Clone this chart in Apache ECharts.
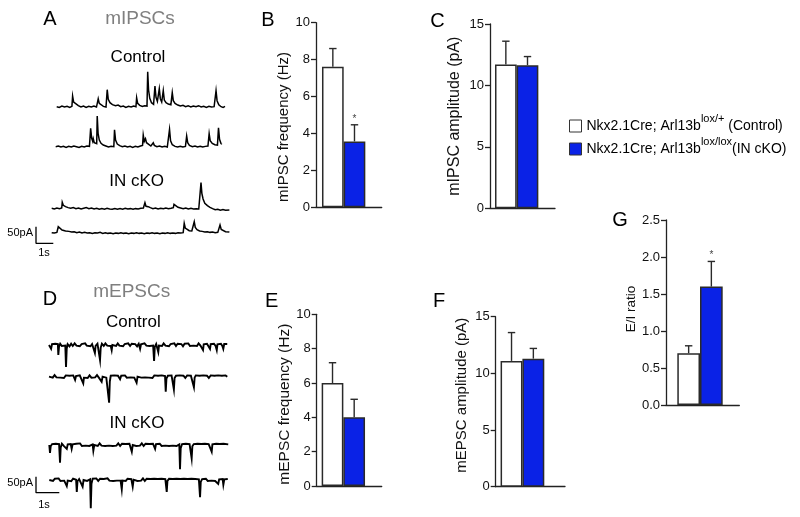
<!DOCTYPE html>
<html>
<head>
<meta charset="utf-8">
<script src="https://cdn.jsdelivr.net/npm/echarts@6/dist/echarts.min.js"></script>
<style>html,body{margin:0;padding:0;background:#fff}#chart{width:800px;height:517px}</style>
</head>
<body>
<div id="chart"></div>
<script>
// ---------------- DATA ----------------
const groups = ['Control', 'IN cKO'];
const legendLabels = {
  'Control': '{n|Nkx2.1Cre; Arl13b}{s|lox/+}{n| (Control)}',
  'IN cKO': '{n|Nkx2.1Cre; Arl13b}{s|lox/lox}{n|(IN cKO)}'
};
// bar panels: mean and SEM per group
const mipscFreqMean = [7.62, 3.57];
const mipscFreqSem  = [0.98, 0.90];
const mipscFreqSig  = [false, true];
const mipscAmpMean  = [11.7, 11.65];
const mipscAmpSem   = [1.9, 0.7];
const mepscFreqMean = [6.0, 4.0];
const mepscFreqSem  = [1.18, 1.05];
const mepscAmpMean  = [11.1, 11.3];
const mepscAmpSem   = [2.5, 0.9];
const eiRatioMean   = [0.70, 1.60];
const eiRatioSem    = [0.10, 0.34];
const eiRatioSig    = [false, true];
const noSig = [false, false];

// scale bars
const scaleBarPA = 50;
const scaleBarS = 1;

// example traces: [time (s), current (pA)]
const mipscControl1 = [[0,0],[0.15,-2],[0.3,2],[0.45,-1],[0.6,1],[0.75,-2],[0.88,1],[0.92,32],[0.98,14],[1.08,8],[1.25,3],[1.4,-1],[1.55,2],[1.7,-2],[1.85,1],[2.0,-1],[2.15,2],[2.3,-1],[2.37,1],[2.40,24],[2.46,10],[2.56,4],[2.7,1],[2.85,-1],[2.89,2],[2.92,51],[2.98,22],[3.08,12],[3.22,6],[3.4,3],[3.55,5],[3.7,0],[3.85,2],[4.0,-2],[4.15,1],[4.3,-1],[4.45,2],[4.58,0],[4.62,27],[4.68,10],[4.8,4],[4.95,1],[5.08,3],[5.15,6],[5.22,2],[5.26,105],[5.31,50],[5.38,25],[5.48,12],[5.6,7],[5.65,9],[5.68,62],[5.74,28],[5.82,16],[5.9,12],[5.93,54],[5.99,24],[6.07,14],[6.13,12],[6.16,48],[6.22,20],[6.32,12],[6.45,8],[6.6,6],[6.65,7],[6.68,42],[6.74,18],[6.84,10],[7.0,5],[7.15,2],[7.3,4],[7.45,0],[7.6,3],[7.75,-1],[7.9,2],[8.05,0],[8.2,3],[8.35,-1],[8.5,1],[8.65,-2],[8.8,1],[8.95,-1],[9.1,0],[9.18,1],[9.21,48],[9.27,18],[9.37,6],[9.5,0],[9.62,-2],[9.73,1]];
const mipscControl2 = [[0,0],[0.15,2],[0.3,-1],[0.45,1],[0.6,-2],[0.75,1],[0.9,-1],[1.05,2],[1.2,0],[1.35,-2],[1.5,1],[1.65,-1],[1.8,2],[1.95,1],[1.99,3],[2.02,55],[2.08,25],[2.14,16],[2.17,24],[2.23,12],[2.32,8],[2.37,9],[2.40,92],[2.45,40],[2.52,20],[2.62,10],[2.75,5],[2.9,2],[3.05,-1],[3.2,1],[3.36,0],[3.40,51],[3.46,20],[3.56,8],[3.7,3],[3.85,0],[4.0,2],[4.15,-1],[4.3,1],[4.45,-2],[4.6,1],[4.75,-1],[4.9,2],[5.02,4],[5.06,35],[5.12,16],[5.16,14],[5.19,24],[5.25,12],[5.35,6],[5.5,2],[5.6,3],[5.64,12],[5.7,4],[5.85,0],[6.0,2],[6.15,-1],[6.3,1],[6.45,-1],[6.55,1],[6.58,52],[6.64,18],[6.74,6],[6.9,1],[7.05,-1],[7.2,1],[7.35,-1],[7.5,1],[7.54,2],[7.57,32],[7.63,12],[7.73,4],[7.9,0],[8.05,2],[8.2,-1],[8.35,1],[8.5,-1],[8.65,1],[8.8,2],[8.84,4],[8.87,39],[8.93,18],[9.05,10],[9.2,6],[9.35,5],[9.38,6],[9.41,57],[9.47,22],[9.55,10],[9.6,7]];
const mipscCko1 = [[0,0],[0.15,-2],[0.3,1],[0.45,-1],[0.58,1],[0.61,18],[0.67,9],[0.8,5],[0.95,2],[1.1,0],[1.25,2],[1.4,-1],[1.55,1],[1.7,-2],[1.85,0],[2.0,2],[2.15,-1],[2.3,1],[2.45,-2],[2.6,0],[2.75,-3],[2.9,-1],[3.05,-3],[3.2,0],[3.35,-2],[3.5,-3],[3.65,-1],[3.8,-3],[3.95,-1],[4.1,-3],[4.25,0],[4.4,-2],[4.55,-1],[4.7,-3],[4.85,-1],[5.0,-2],[5.15,0],[5.3,1],[5.39,17],[5.45,6],[5.51,12],[5.58,5],[5.7,2],[5.85,-1],[6.0,1],[6.15,-2],[6.3,0],[6.45,-1],[6.6,1],[6.75,-1],[6.9,0],[7.03,2],[7.07,12],[7.15,6],[7.3,3],[7.45,1],[7.6,-1],[7.75,1],[7.9,-2],[8.05,0],[8.2,-2],[8.35,-1],[8.5,-2],[8.6,0],[8.63,77],[8.68,45],[8.75,28],[8.85,15],[9.0,8],[9.15,3],[9.3,-1],[9.45,-4],[9.6,-3],[9.75,-6],[9.9,-4],[10.05,-6],[10.27,-5]];
const mipscCko2 = [[0,0],[0.15,-1],[0.3,1],[0.38,18],[0.45,12],[0.6,8],[0.8,5],[1.0,4],[1.15,2],[1.3,3],[1.45,0],[1.6,2],[1.75,-1],[1.9,1],[2.05,-1],[2.2,0],[2.35,-2],[2.5,0],[2.65,-1],[2.8,1],[2.95,-2],[3.1,0],[3.25,-2],[3.4,-1],[3.55,-3],[3.7,-1],[3.85,-2],[4.0,0],[4.15,-2],[4.3,-1],[4.45,-3],[4.6,-1],[4.75,-2],[4.9,0],[5.05,-2],[5.2,-1],[5.35,-3],[5.5,-1],[5.65,-2],[5.8,0],[5.95,-2],[6.1,-1],[6.25,-3],[6.4,-1],[6.55,-2],[6.7,0],[6.85,-2],[7.0,-1],[7.15,-2],[7.3,0],[7.45,-1],[7.6,0],[7.66,28],[7.72,14],[7.82,8],[7.95,6],[8.1,5],[8.2,6],[8.24,33],[8.3,16],[8.4,9],[8.55,5],[8.7,4],[8.85,2],[9.0,3],[9.15,1],[9.3,2],[9.45,0],[9.6,1],[9.7,2],[9.73,23],[9.8,10],[9.9,5],[10.05,3],[10.15,1],[10.27,2]];

const mepscControl1 = [[0,0],[0.05,4],[0.09,-12],[0.13,3],[0.2,-3],[0.27,4],[0.34,-2],[0.38,3],[0.40,-31],[0.43,-5],[0.48,4],[0.55,-3],[0.62,3],[0.7,-2],[0.73,-69],[0.76,-12],[0.8,3],[0.88,-4],[0.95,4],[1.02,-3],[1.1,5],[1.18,-2],[1.25,4],[1.32,-4],[1.4,3],[1.48,-3],[1.55,5],[1.62,-2],[1.7,4],[1.78,-4],[1.85,3],[1.92,-3],[1.97,-25],[2.0,-3],[2.08,4],[2.15,-2],[2.19,-47],[2.22,-8],[2.27,4],[2.35,-3],[2.42,5],[2.5,-2],[2.58,4],[2.65,-3],[2.69,-16],[2.72,0],[2.8,4],[2.88,-3],[2.95,5],[3.02,-2],[3.1,4],[3.18,-4],[3.25,3],[3.32,-2],[3.4,5],[3.48,-3],[3.55,4],[3.62,-2],[3.7,3],[3.78,-4],[3.85,4],[3.91,-12],[3.95,2],[4.02,-3],[4.1,5],[4.18,-2],[4.25,4],[4.32,-3],[4.4,3],[4.47,-2],[4.51,-50],[4.54,-6],[4.6,3],[4.66,-3],[4.69,-22],[4.72,-2],[4.78,4],[4.85,-3],[4.92,5],[5.0,-2],[5.08,4],[5.15,-4],[5.22,3],[5.3,-2],[5.38,5],[5.45,-3],[5.52,4],[5.6,-2],[5.68,3],[5.75,-4],[5.82,4],[5.9,-2],[5.98,5],[6.05,-3],[6.12,3],[6.2,-2],[6.28,4],[6.35,-3],[6.42,5],[6.5,-2],[6.57,3],[6.61,-16],[6.64,2],[6.7,-3],[6.78,4],[6.85,-2],[6.91,-12],[6.94,3],[7.0,-2],[7.08,4],[7.15,-3],[7.2,-16],[7.23,2],[7.3,-2],[7.38,4],[7.44,-3],[7.48,-12],[7.52,3],[7.58,-2],[7.65,3]];
const mepscControl2 = [[0,0],[0.08,4],[0.16,-3],[0.24,5],[0.32,-2],[0.4,4],[0.48,-3],[0.56,3],[0.64,-4],[0.72,4],[0.8,-2],[0.88,3],[0.96,-3],[1.04,4],[1.12,-10],[1.16,2],[1.24,-3],[1.32,4],[1.4,-2],[1.47,-21],[1.5,-3],[1.58,3],[1.66,-4],[1.74,4],[1.82,-3],[1.9,3],[1.98,-2],[2.06,5],[2.14,-3],[2.22,3],[2.26,-16],[2.3,0],[2.38,4],[2.46,-3],[2.54,2],[2.58,-81],[2.61,-15],[2.65,3],[2.72,-3],[2.8,4],[2.88,-2],[2.96,3],[3.05,-8],[3.1,3],[3.18,-2],[3.26,4],[3.34,-3],[3.42,3],[3.5,-2],[3.58,4],[3.66,-3],[3.72,2],[3.76,-19],[3.8,0],[3.88,4],[3.96,-3],[4.04,3],[4.12,-2],[4.2,4],[4.28,-3],[4.36,3],[4.44,-4],[4.52,4],[4.6,-2],[4.68,3],[4.76,-3],[4.84,4],[4.92,-2],[4.98,2],[5.01,-47],[5.04,-6],[5.1,3],[5.18,-3],[5.26,4],[5.33,0],[5.36,-40],[5.39,-4],[5.45,3],[5.53,-3],[5.61,4],[5.69,-2],[5.77,3],[5.85,-4],[5.93,4],[6.01,-2],[6.09,3],[6.17,-3],[6.22,-33],[6.25,-3],[6.3,4],[6.38,-2],[6.46,3],[6.54,-3],[6.62,4],[6.7,-2],[6.78,3],[6.86,-4],[6.94,4],[7.02,-2],[7.1,3],[7.18,-3],[7.26,4],[7.34,-2],[7.42,3],[7.5,-3],[7.58,4],[7.65,0]];
const mepscCko1 = [[0,0],[0.03,-25],[0.06,-4],[0.12,3],[0.2,-3],[0.28,4],[0.36,-2],[0.42,3],[0.46,-55],[0.49,-8],[0.54,4],[0.62,-3],[0.7,3],[0.75,-12],[0.79,2],[0.86,-3],[0.92,3],[0.96,-12],[1.0,2],[1.08,-3],[1.16,4],[1.24,-2],[1.32,5],[1.4,-3],[1.48,3],[1.56,-2],[1.64,4],[1.72,-3],[1.8,3],[1.86,2],[1.89,-18],[1.93,0],[2.0,4],[2.08,-3],[2.16,5],[2.24,-2],[2.32,4],[2.4,-3],[2.48,3],[2.56,-2],[2.64,4],[2.72,-3],[2.8,3],[2.88,-2],[2.96,5],[3.04,-3],[3.12,4],[3.2,-2],[3.28,3],[3.36,-3],[3.44,4],[3.5,2],[3.54,-21],[3.58,0],[3.65,4],[3.73,-3],[3.81,3],[3.89,-2],[3.97,5],[4.05,-3],[4.13,4],[4.21,-2],[4.29,3],[4.37,-3],[4.45,4],[4.54,-12],[4.58,3],[4.66,-2],[4.74,4],[4.82,-3],[4.9,3],[4.98,-2],[5.06,4],[5.14,-3],[5.22,3],[5.3,-2],[5.38,4],[5.46,-3],[5.54,3],[5.58,2],[5.61,-76],[5.64,-10],[5.7,3],[5.78,-3],[5.86,4],[5.94,-2],[6.02,3],[6.08,2],[6.11,-42],[6.14,-4],[6.2,3],[6.28,-3],[6.36,4],[6.44,-2],[6.52,3],[6.6,-3],[6.68,4],[6.76,-2],[6.84,3],[6.92,-2],[6.97,-21],[7.0,2],[7.08,-3],[7.16,4],[7.24,-2],[7.32,3],[7.4,-3],[7.48,4],[7.56,-2],[7.68,2]];
const mepscCko2 = [[0,0],[0.08,3],[0.16,-3],[0.24,4],[0.32,-2],[0.4,5],[0.48,-3],[0.56,3],[0.64,-2],[0.7,2],[0.75,-19],[0.79,-2],[0.86,3],[0.94,-4],[1.02,4],[1.1,-2],[1.15,1],[1.18,-37],[1.21,-4],[1.28,3],[1.36,-3],[1.43,-21],[1.47,0],[1.54,4],[1.62,-3],[1.7,3],[1.75,2],[1.78,-88],[1.81,-12],[1.86,4],[1.94,-2],[2.02,5],[2.1,-3],[2.18,4],[2.26,-2],[2.34,3],[2.42,-3],[2.5,5],[2.58,-2],[2.66,4],[2.74,-3],[2.82,3],[2.9,-2],[2.98,4],[3.06,-2],[3.11,-29],[3.14,-2],[3.2,3],[3.28,-3],[3.36,4],[3.44,-2],[3.52,3],[3.58,-21],[3.62,1],[3.7,4],[3.78,-3],[3.86,3],[3.94,-2],[4.02,5],[4.1,-3],[4.18,4],[4.26,-2],[4.34,3],[4.42,-3],[4.5,4],[4.58,-2],[4.66,3],[4.74,-3],[4.82,4],[4.9,-2],[4.98,3],[5.04,-37],[5.07,-3],[5.14,4],[5.22,-2],[5.3,3],[5.38,-3],[5.46,4],[5.54,-2],[5.62,3],[5.7,-3],[5.78,4],[5.86,-2],[5.94,3],[6.02,-3],[6.1,4],[6.18,-2],[6.26,3],[6.34,-3],[6.42,2],[6.47,-54],[6.5,-6],[6.56,3],[6.64,-2],[6.72,4],[6.8,-3],[6.88,3],[6.96,-2],[7.04,4],[7.12,-3],[7.2,2],[7.25,-12],[7.29,2],[7.36,-3],[7.44,3],[7.47,-15],[7.51,2],[7.58,-2],[7.66,3]];

// ---------------- LAYOUT / STYLE ----------------
const FONT = '"Liberation Sans", Arial, Helvetica, sans-serif';
const AXIS_COLOR = '#222';
const BLUE = '#0a22e6';

const barPanels = [
  { mean: mipscFreqMean, sem: mipscFreqSem, sig: mipscFreqSig, name: 'mIPSC frequency (Hz)', max: 10, interval: 2,
    left: 316, top: 22.7, width: 65.7, height: 184.6, xMin: -0.778, xMax: 2.257, barW: 21.7, nameGap: 20, nameSize: 15, namePad: [0, 24, 0, 0] },
  { mean: mipscAmpMean, sem: mipscAmpSem, sig: noSig, name: 'mIPSC amplitude (pA)', max: 15, interval: 5,
    left: 490, top: 24, width: 65, height: 184.3, xMin: -0.732, xMax: 2.27, barW: 21.7, nameGap: 27, nameSize: 16, namePad: [0, 0, 0, 0] },
  { mean: mepscFreqMean, sem: mepscFreqSem, sig: noSig, name: 'mEPSC frequency (Hz)', max: 10, interval: 2,
    left: 316.7, top: 314.3, width: 65, height: 171.7, xMin: -0.73, xMax: 2.27, barW: 21.7, nameGap: 20, nameSize: 15.5, namePad: [0, 8, 0, 0] },
  { mean: mepscAmpMean, sem: mepscAmpSem, sig: noSig, name: 'mEPSC amplitude (pA)', max: 15, interval: 5,
    left: 495.7, top: 316.7, width: 69.3, height: 170, xMin: -0.725, xMax: 2.45, barW: 21.9, nameGap: 26.5, nameSize: 15, namePad: [0, 0, 0, 13] },
  { mean: eiRatioMean, sem: eiRatioSem, sig: eiRatioSig, name: 'E/I ratio', max: 2.5, interval: 0.5, fmt: v => v.toFixed(1),
    left: 666, top: 220, width: 73.3, height: 185, xMin: -0.998, xMax: 2.231, barW: 22.7, nameGap: 27.5, nameSize: 13.5, namePad: [0, 0, 0, 7] }
];

const traceScale = {
  A: { pxPerS: 17.3, pxPerPA: 1 / 3, yMin: -30, yMax: 120, xMax: 10.5, lw: 1.5 },
  D: { pxPerS: 23.3, pxPerPA: 0.32, yMin: -100, yMax: 25, xMax: 7.7, lw: 1.9 }
};
const tracePanels = [
  { data: mipscControl1, k: 'A', left: 56.7, top: 66.7 },
  { data: mipscControl2, k: 'A', left: 55.7, top: 106.7 },
  { data: mipscCko1, k: 'A', left: 51.7, top: 168.3 },
  { data: mipscCko2, k: 'A', left: 51.7, top: 192.7 },
  { data: mepscControl1, k: 'D', left: 49, top: 337 },
  { data: mepscControl2, k: 'D', left: 49, top: 368.7 },
  { data: mepscCko1, k: 'D', left: 49.3, top: 437 },
  { data: mepscCko2, k: 'D', left: 49.3, top: 472 }
];
const scaleBarPanels = [
  { k: 'A', left: 36, top: 226.7 },
  { k: 'D', left: 36, top: 476.7 }
];

// ---------------- BUILD OPTION ----------------
const grid = [], xAxis = [], yAxis = [], series = [];

barPanels.forEach((p) => {
  const gi = grid.length;
  grid.push({ left: p.left, top: p.top, width: p.width, height: p.height });
  xAxis.push({
    gridIndex: gi, type: 'value', min: p.xMin, max: p.xMax,
    axisLine: { show: true, onZero: false, lineStyle: { color: AXIS_COLOR, width: 1.3 } },
    axisTick: { show: false }, axisLabel: { show: false }, splitLine: { show: false }
  });
  yAxis.push({
    gridIndex: gi, type: 'value', min: 0, max: p.max, interval: p.interval,
    axisLine: { show: true, onZero: false, lineStyle: { color: AXIS_COLOR, width: 1.3 } },
    axisTick: { show: true, length: 5, lineStyle: { color: AXIS_COLOR, width: 1.3 } },
    axisLabel: { fontSize: 13, color: '#111', fontFamily: FONT, margin: 6, formatter: p.fmt },
    splitLine: { show: false },
    name: p.name, nameLocation: 'middle', nameGap: p.nameGap,
    nameTextStyle: { fontSize: p.nameSize, fontFamily: FONT, color: '#111', padding: p.namePad }
  });
  groups.forEach((g, i) => {
    series.push({
      type: 'bar', name: g, xAxisIndex: gi, yAxisIndex: gi,
      barWidth: p.barW, barGap: '-100%',
      data: [[i, p.mean[i]]],
      itemStyle: { color: i === 0 ? '#ffffff' : BLUE, borderColor: '#2a2a2a', borderWidth: 1.5 },
      silent: true, z: 2
    });
  });
  series.push({
    type: 'custom', xAxisIndex: gi, yAxisIndex: gi, silent: true, z: 3,
    data: p.mean.map((m, i) => [i, m, m + p.sem[i], p.sig[i] ? 1 : 0]),
    encode: { x: 0, y: 1 },
    renderItem: (params, api) => {
      const x = api.value(0), m = api.value(1), hi = api.value(2);
      const a = api.coord([x, m]), b = api.coord([x, hi]);
      const st = { stroke: '#2a2a2a', lineWidth: 1.4 };
      const ch = [
        { type: 'line', shape: { x1: a[0], y1: a[1], x2: b[0], y2: b[1] }, style: st },
        { type: 'line', shape: { x1: b[0] - 3.7, y1: b[1], x2: b[0] + 3.7, y2: b[1] }, style: st }
      ];
      if (api.value(3)) {
        ch.push({ type: 'text', style: { text: '*', x: b[0], y: b[1] - 1, align: 'center', verticalAlign: 'bottom',
          textAlign: 'center', textVerticalAlign: 'bottom', font: '10px ' + FONT, fill: '#444' } });
      }
      return { type: 'group', children: ch };
    }
  });
});

tracePanels.forEach((t) => {
  const s = traceScale[t.k];
  const gi = grid.length;
  grid.push({ left: t.left, top: t.top, width: s.xMax * s.pxPerS, height: (s.yMax - s.yMin) * s.pxPerPA });
  xAxis.push({ gridIndex: gi, type: 'value', min: 0, max: s.xMax, show: false });
  yAxis.push({ gridIndex: gi, type: 'value', min: s.yMin, max: s.yMax, show: false });
  series.push({
    type: 'line', xAxisIndex: gi, yAxisIndex: gi, data: t.data, showSymbol: false, symbol: 'none', smooth: false,
    lineStyle: { color: '#000', width: s.lw, join: 'miter' }, silent: true, clip: false
  });
});

scaleBarPanels.forEach((b) => {
  const s = traceScale[b.k];
  const gi = grid.length;
  grid.push({ left: b.left, top: b.top, width: scaleBarS * s.pxPerS, height: scaleBarPA * s.pxPerPA });
  xAxis.push({ gridIndex: gi, type: 'value', min: 0, max: scaleBarS, show: false });
  yAxis.push({ gridIndex: gi, type: 'value', min: 0, max: scaleBarPA, show: false });
  series.push({
    type: 'line', xAxisIndex: gi, yAxisIndex: gi, data: [[0, scaleBarPA], [0, 0], [scaleBarS, 0]],
    showSymbol: false, symbol: 'none', lineStyle: { color: '#000', width: 1.3 }, silent: true, clip: false
  });
});

function txt(text, x, y, size, opts) {
  opts = opts || {};
  const align = opts.align || 'center';
  return {
    type: 'text', silent: true,
    style: { text, x, y, font: size + 'px ' + FONT, fill: opts.color || '#000',
      align, verticalAlign: 'middle', textAlign: align, textVerticalAlign: 'middle' }
  };
}

const graphic = [
  txt('A', 50, 19, 20), txt('B', 268, 20, 20), txt('C', 437.5, 21.7, 20),
  txt('D', 50, 299, 20), txt('E', 271.7, 301, 20), txt('F', 439, 301.7, 20), txt('G', 620, 220, 20),
  txt('mIPSCs', 140, 18.3, 19, { color: '#7f7f7f' }), txt('mEPSCs', 131.7, 292, 19, { color: '#7f7f7f' }),
  txt('Control', 138, 57.5, 17), txt('IN cKO', 136.7, 181, 17),
  txt('Control', 133.3, 322.5, 17), txt('IN cKO', 137, 423, 17),
  txt('50pA', 33, 233.3, 11, { align: 'right' }), txt('1s', 44, 252.7, 11),
  txt('50pA', 33, 482.7, 11, { align: 'right' }), txt('1s', 44, 505, 11)
];

const option = {
  backgroundColor: '#fff',
  animation: false,
  grid, xAxis, yAxis, series, graphic,
  legend: {
    orient: 'vertical', left: 569, top: 113, itemWidth: 12, itemHeight: 12, itemGap: 3, padding: 0,
    data: groups, icon: 'rect', selectedMode: false,
    itemStyle: { borderWidth: 1, borderColor: '#333' },
    formatter: (name) => legendLabels[name],
    textStyle: {
      color: '#000', fontFamily: FONT, fontSize: 14,
      rich: {
        n: { fontSize: 14, fontFamily: FONT, color: '#000', lineHeight: 26 },
        s: { fontSize: 11, fontFamily: FONT, color: '#000', lineHeight: 4, verticalAlign: 'top' }
      }
    }
  }
};

const chart = echarts.init(document.getElementById('chart'), null, { renderer: 'canvas', width: 800, height: 517 });
chart.setOption(option);
</script>
</body>
</html>
